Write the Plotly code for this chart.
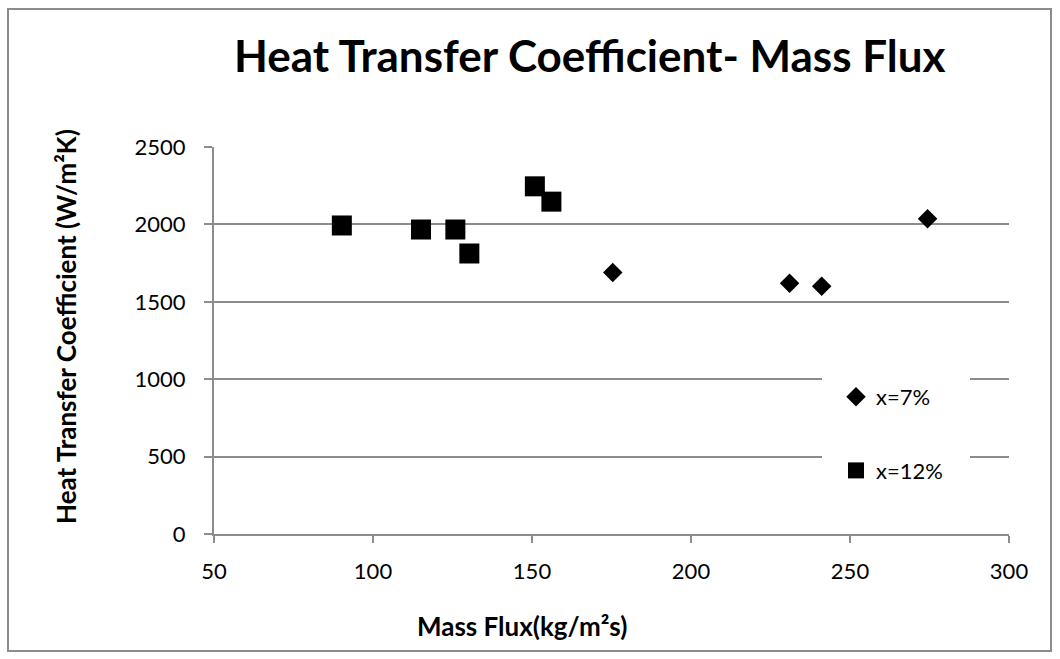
import plotly.graph_objects as go

# Data
x7 = [175.4, 231.0, 241.1, 274.4]
h7 = [1689, 1620, 1600, 2037]

x12 = [90.2, 115.1, 125.9, 130.3, 150.9, 156.1]
h12 = [1993, 1967, 1967, 1812, 2246, 2147]

series_names = ["x=7%", "x=12%"]
title_text = "Heat Transfer Coefficient- Mass Flux"
x_title = "Mass Flux(kg/m²s)"
y_title = "Heat Transfer Coefficient (W/m²K)"
x_ticks = [50, 100, 150, 200, 250, 300]
y_ticks = [0, 500, 1000, 1500, 2000, 2500]

FONT = "Lato"
W, H = 1060, 659
L, R, T, B = 214, 51, 147, 125
PW, PH = W - L - R, H - T - B


def px(xp):
    return (xp - L) / PW


def py(yp):
    return (H - B - yp) / PH


fig = go.Figure()
fig.add_trace(go.Scatter(
    x=x7, y=h7, mode="markers", name=series_names[0], legendgroup="a",
    marker=dict(symbol="diamond", size=15, color="black", line=dict(width=0)),
))
fig.add_trace(go.Scatter(
    x=x12, y=h12, mode="markers", name=series_names[1], legendgroup="b",
    marker=dict(symbol="square", size=20, color="black", line=dict(width=0)),
))

grid = "#8c8c8c"
fig.update_layout(
    width=W, height=H,
    margin=dict(l=L, r=R, t=T, b=B, autoexpand=False),
    paper_bgcolor="white", plot_bgcolor="white",
    font=dict(family=FONT, size=22, color="black"),
    showlegend=True,
    legend=dict(
        x=px(836), y=py(376), xanchor="left", yanchor="top",
        bgcolor="rgba(255,255,255,0)", borderwidth=0,
        font=dict(family=FONT, size=22, color="black"),
        tracegroupgap=42, itemsizing="trace",
    ),
    xaxis=dict(
        range=[50, 300], tickvals=x_ticks, ticktext=[str(v) for v in x_ticks],
        showgrid=False, zeroline=False,
        showline=True, linecolor=grid, linewidth=2,
        ticks="outside", ticklen=7, tickwidth=2, tickcolor=grid,
        ticklabelstandoff=10,
        tickfont=dict(family=FONT, size=22, color="black"),
    ),
    yaxis=dict(
        range=[0, 2500], tickvals=y_ticks, ticktext=[str(v) for v in y_ticks],
        showgrid=True, gridcolor=grid, gridwidth=2, zeroline=False,
        showline=True, linecolor=grid, linewidth=2,
        ticks="outside", ticklen=8, tickwidth=2, tickcolor=grid,
        ticklabelstandoff=14,
        tickfont=dict(family=FONT, size=22, color="black"),
    ),
    annotations=[
        dict(text="<b>" + title_text + "</b>", x=px(590), y=py(55),
             xref="paper", yref="paper", xanchor="center", yanchor="middle",
             showarrow=False, font=dict(family=FONT, size=44, color="black")),
        dict(text="<b>" + x_title + "</b>", x=px(522), y=py(626),
             xref="paper", yref="paper", xanchor="center", yanchor="middle",
             showarrow=False, font=dict(family=FONT, size=26, color="black")),
        dict(text="<b>" + y_title + "</b>", x=px(66), y=py(327),
             xref="paper", yref="paper", xanchor="center", yanchor="middle",
             textangle=-90,
             showarrow=False, font=dict(family=FONT, size=26, color="black")),
    ],
    shapes=[
        dict(type="rect", xref="paper", yref="paper",
             x0=px(8), x1=px(1051), y0=py(651), y1=py(9),
             line=dict(color="#8c8c8c", width=2), fillcolor="rgba(0,0,0,0)",
             layer="below"),
        dict(type="rect", xref="paper", yref="paper",
             x0=px(822), x1=px(970), y0=py(500), y1=py(365),
             line=dict(width=0), fillcolor="white",
             layer="above"),
    ],
)

fig.write_html("out.html")
